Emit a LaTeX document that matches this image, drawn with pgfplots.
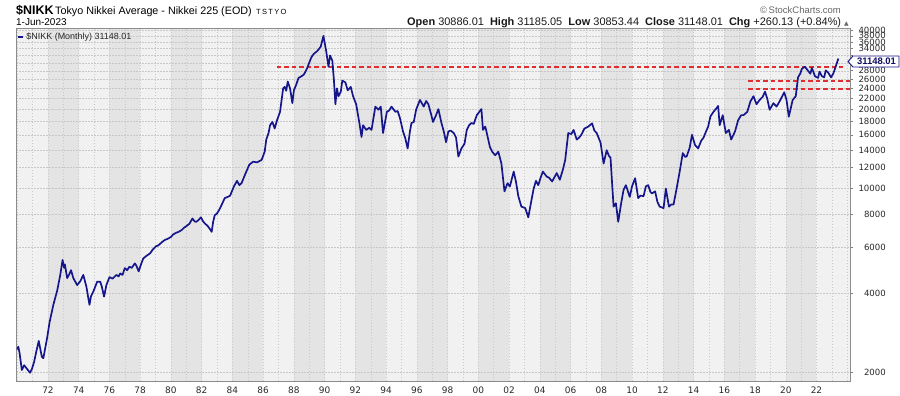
\documentclass[border=0pt]{standalone}
\usepackage{fontspec}
\setmainfont{Liberation Sans}
\newfontfamily\dejavu{DejaVu Sans}
\newfontfamily\spaced[LetterSpace=18]{Liberation Sans}
\usepackage{pgfplots}
\usepackage{pgfplotstable}
\pgfplotsset{compat=1.18}
\definecolor{navyline}{RGB}{22,22,140}
\definecolor{reddash}{RGB}{225,45,45}
\definecolor{bandlight}{RGB}{241,241,241}
\definecolor{banddark}{RGB}{228,228,228}
\definecolor{gridc}{RGB}{200,200,200}
\definecolor{txt}{RGB}{40,40,40}

\pgfplotstableread{
x y
1970.00 2450
1970.07 2510
1970.15 2380
1970.30 2047
1970.45 2135
1970.60 2080
1970.83 2000
1970.95 2060
1971.10 2200
1971.25 2420
1971.40 2640
1971.60 2300
1971.70 2270
1971.80 2440
1971.95 2720
1972.10 3100
1972.35 3620
1972.60 4100
1972.80 4700
1972.95 5360
1973.05 5000
1973.10 5150
1973.25 4570
1973.40 4750
1973.50 4900
1973.65 4570
1973.90 4300
1974.10 4450
1974.30 4700
1974.50 4240
1974.70 3620
1974.80 3900
1974.95 4060
1975.20 4430
1975.40 4430
1975.50 4250
1975.65 3890
1975.80 4300
1976.00 4610
1976.20 4550
1976.45 4700
1976.60 4640
1976.70 4760
1976.85 4700
1977.00 4990
1977.15 4900
1977.30 5050
1977.45 5000
1977.65 5200
1977.75 5100
1977.90 4850
1978.05 5150
1978.20 5430
1978.40 5550
1978.65 5680
1978.80 5850
1979.00 6020
1979.20 6100
1979.40 6250
1979.60 6380
1979.80 6450
1980.00 6550
1980.15 6700
1980.35 6800
1980.50 6850
1980.70 6960
1980.85 7100
1981.00 7200
1981.20 7350
1981.40 7700
1981.55 7500
1981.65 7480
1981.80 7600
1981.95 7780
1982.10 7500
1982.20 7380
1982.40 7200
1982.55 7000
1982.65 6850
1982.75 7500
1982.85 7920
1983.00 8050
1983.15 8320
1983.35 8800
1983.50 9200
1983.70 9300
1983.85 9400
1984.10 10200
1984.30 10700
1984.45 10300
1984.60 10500
1984.85 11400
1985.10 12330
1985.35 12650
1985.60 12570
1985.90 12850
1986.10 13810
1986.20 15330
1986.35 16250
1986.45 17400
1986.60 17900
1986.75 16910
1986.90 18160
1987.10 19570
1987.30 24000
1987.40 24330
1987.50 23500
1987.60 25500
1987.75 24000
1987.90 21100
1988.00 23600
1988.15 24800
1988.30 26300
1988.50 26700
1988.65 27100
1988.85 28530
1989.00 30100
1989.15 31600
1989.30 32500
1989.40 32850
1989.50 33200
1989.60 33700
1989.75 34600
1989.92 38000
1990.10 33300
1990.25 29000
1990.35 32000
1990.50 30600
1990.60 26000
1990.70 20900
1990.80 24000
1990.90 22420
1991.05 23300
1991.15 25700
1991.35 25290
1991.50 23600
1991.70 24330
1991.85 22420
1992.05 20900
1992.25 17900
1992.40 15700
1992.50 17400
1992.70 16700
1992.90 17000
1993.05 16700
1993.30 20470
1993.50 19920
1993.65 20470
1993.80 16250
1994.05 19570
1994.20 19800
1994.35 20470
1994.60 19570
1994.75 19700
1994.90 18520
1995.10 16480
1995.25 15500
1995.40 14200
1995.55 16500
1995.65 17740
1995.80 17900
1995.95 19920
1996.20 21700
1996.45 20470
1996.60 21500
1996.75 20900
1996.90 19400
1997.05 17900
1997.25 19000
1997.40 20030
1997.60 17740
1997.75 16500
1997.90 15000
1998.05 16480
1998.20 16600
1998.40 16250
1998.55 15600
1998.70 13230
1998.90 14200
1999.10 14800
1999.25 16700
1999.40 17400
1999.55 17740
1999.70 17600
1999.90 19000
2000.20 20030
2000.30 16700
2000.45 17200
2000.55 16250
2000.75 14400
2000.90 13800
2001.10 13380
2001.30 13800
2001.50 12450
2001.70 9760
2001.90 10480
2002.05 10180
2002.30 11600
2002.45 10600
2002.60 9360
2002.80 8540
2003.05 8430
2003.25 7780
2003.45 9000
2003.60 10000
2003.75 10700
2003.90 10300
2004.05 11000
2004.20 11600
2004.45 11100
2004.60 11000
2004.80 10640
2005.10 11450
2005.30 10800
2005.50 11800
2005.65 12830
2005.85 16250
2006.05 16100
2006.20 16700
2006.40 15350
2006.55 15600
2006.70 16000
2006.90 16900
2007.15 17190
2007.40 17680
2007.55 16600
2007.70 16250
2007.95 14950
2008.15 12450
2008.35 13980
2008.50 13300
2008.60 13100
2008.70 10500
2008.80 8540
2008.95 8800
2009.10 7480
2009.30 8860
2009.45 9900
2009.60 10300
2009.85 9300
2010.00 10200
2010.20 10950
2010.40 9200
2010.55 9400
2010.75 9360
2010.90 10200
2011.05 10300
2011.20 9700
2011.30 9590
2011.50 9760
2011.65 8900
2011.80 8540
2012.05 8430
2012.20 10000
2012.40 8540
2012.55 8700
2012.70 8700
2012.90 10000
2013.10 11600
2013.30 13640
2013.45 13200
2013.55 13230
2013.75 14300
2013.90 16000
2014.10 14630
2014.30 14200
2014.50 15200
2014.65 15600
2014.80 16400
2014.95 17190
2015.10 18800
2015.30 19570
2015.50 20200
2015.60 20600
2015.70 17400
2015.90 19000
2016.10 16250
2016.30 16700
2016.45 15350
2016.70 16480
2016.90 18160
2017.10 19000
2017.25 19000
2017.50 19570
2017.70 21430
2017.90 22420
2018.10 20900
2018.30 21700
2018.50 22300
2018.65 23340
2018.80 21900
2018.95 19920
2019.20 21100
2019.40 20470
2019.60 21430
2019.90 23200
2020.05 21700
2020.20 18750
2020.45 21700
2020.65 22420
2020.80 26430
2020.95 27400
2021.05 28500
2021.25 29000
2021.45 28000
2021.60 27300
2021.70 28700
2021.90 26700
2022.10 26300
2022.20 27800
2022.35 26700
2022.50 26430
2022.60 28100
2022.75 27600
2022.95 26430
2023.10 27400
2023.20 28500
2023.42 31148
}\nikk

\begin{document}
\begin{tikzpicture}
\begin{axis}[
  set layers,
  scale only axis, width=834bp, height=353bp,
  at={(0,0)}, anchor=south west,
  xmin=1969.92, xmax=2024.18,
  ymode=log, ymin=1860, ymax=40700,
  xtick={1972,1974,1976,1978,1980,1982,1984,1986,1988,1990,1992,1994,1996,1998,2000,2002,2004,2006,2008,2010,2012,2014,2016,2018,2020,2022},
  xticklabels={72,74,76,78,80,82,84,86,88,90,92,94,96,98,00,02,04,06,08,10,12,14,16,18,20,22},
  minor xtick={1970,1971,...,2024},
  ytick={2000,4000,6000,8000,10000,12000,14000,16000,18000,20000,22000,24000,26000,28000,30000,32000,34000,36000,38000,40000},
  yticklabels={2000,4000,6000,8000,10000,12000,14000,16000,18000,20000,22000,24000,26000,28000,,,34000,36000,38000,40000},
  minor ytick={},
  ytick pos=right, yticklabel pos=right,
  xtick pos=bottom,
  tick align=outside,
  major tick length=3bp, minor tick length=0pt,
  xtick style={draw=none},
  ytick style={draw=gray, line width=0.6bp},
  xmajorgrids=true, xminorgrids=true, ymajorgrids=true,
  major grid style={gridc, dash pattern=on 1.5bp off 1.5bp, line width=0.5bp},
  minor grid style={gridc, dash pattern=on 1.5bp off 1.5bp, line width=0.5bp},
  axis line style={draw=gray!90, line width=0.8bp},
  yticklabel style={font=\dejavu\fontsize{8.6}{10}\selectfont, text=txt, anchor=east, inner sep=0pt, xshift=33bp},
  xticklabel style={font=\dejavu\fontsize{9}{10}\selectfont, text=txt, inner sep=0pt, yshift=-3bp},
  legend style={at={(0,1)}, anchor=north west, draw=none, fill=none, inner sep=0pt, xshift=1bp, yshift=-3bp,
    font=\fontsize{9}{10}\selectfont, text=txt},
  legend image code/.code={\draw[#1, line width=2.2bp] (0bp,0bp) -- (5bp,0bp);},
  clip=false,
]
\begin{pgfonlayer}{axis background}
\fill[bandlight] (rel axis cs:0,0) rectangle (rel axis cs:1,1);
\fill[banddark] (axis cs:1972,1860) rectangle (axis cs:1974,40700);
\fill[banddark] (axis cs:1976,1860) rectangle (axis cs:1978,40700);
\fill[banddark] (axis cs:1980,1860) rectangle (axis cs:1982,40700);
\fill[banddark] (axis cs:1984,1860) rectangle (axis cs:1986,40700);
\fill[banddark] (axis cs:1988,1860) rectangle (axis cs:1990,40700);
\fill[banddark] (axis cs:1992,1860) rectangle (axis cs:1994,40700);
\fill[banddark] (axis cs:1996,1860) rectangle (axis cs:1998,40700);
\fill[banddark] (axis cs:2000,1860) rectangle (axis cs:2002,40700);
\fill[banddark] (axis cs:2004,1860) rectangle (axis cs:2006,40700);
\fill[banddark] (axis cs:2008,1860) rectangle (axis cs:2010,40700);
\fill[banddark] (axis cs:2012,1860) rectangle (axis cs:2014,40700);
\fill[banddark] (axis cs:2016,1860) rectangle (axis cs:2018,40700);
\fill[banddark] (axis cs:2020,1860) rectangle (axis cs:2022,40700);
\end{pgfonlayer}
\addplot[reddash, line width=2bp, dash pattern=on 4.5bp off 3bp, forget plot] coordinates {(1986.9,29000) (2023.75,29000)};
\addplot[reddash, line width=2bp, dash pattern=on 4.5bp off 3bp, forget plot] coordinates {(2017.55,25600) (2024.18,25600)};
\addplot[reddash, line width=2bp, dash pattern=on 4.5bp off 3bp, forget plot] coordinates {(2017.55,23900) (2024.18,23900)};
\addplot[navyline, line width=1.7bp, line join=round] table[x=x,y=y] {\nikk};
\addlegendentry{\$NIKK (Monthly) 31148.01}
\end{axis}
% header texts
\node[anchor=base west, inner sep=0pt] at (0bp,366bp) {{\bfseries\fontsize{12.5}{14}\selectfont \$NIKK}\,{\fontsize{10.8}{12}\selectfont Tokyo Nikkei Average - Nikkei 225 (EOD)}\ \,{\spaced\fontsize{7.5}{9}\selectfont TSTYO}};
\node[anchor=base west, inner sep=0pt] at (0bp,355bp) {\fontsize{10}{12}\selectfont 1-Jun-2023};
\node[anchor=base east, inner sep=0pt, text=black!60] at (825bp,367.7bp) {\fontsize{9.5}{11}\selectfont \textcopyright\,StockCharts.com};
\node[anchor=base east, inner sep=0pt, text=black!90] at (833bp,355bp) {\fontsize{11}{12}\selectfont \textbf{Open} 30886.01 \ \textbf{High} 31185.05 \ \textbf{Low} 30853.44 \ \textbf{Close} 31148.01 \ \textbf{Chg} +260.13 (+0.84\%) {\dejavu\fontsize{6}{7}\selectfont\textcolor{black!60}{▲}}};
% value box
\draw[navyline, fill=white, line width=0.9bp] (832bp,319.5bp) -- (837bp,325bp) -- (883bp,325bp) -- (883bp,314bp) -- (837bp,314bp) -- cycle;
\node[inner sep=0pt, text=navyline!70!black] at (860.5bp,319.5bp) {\bfseries\fontsize{9.5}{10}\selectfont 31148.01};
\pgfresetboundingbox
\path[use as bounding box] (-16bp,-15bp) rectangle (884bp,381bp);
\end{tikzpicture}
\end{document}
